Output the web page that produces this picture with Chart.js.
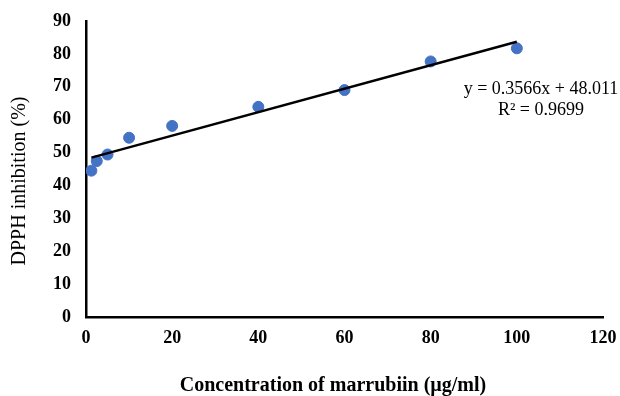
<!DOCTYPE html>
<html>
<head>
<meta charset="utf-8">
<script src="https://cdn.jsdelivr.net/npm/chart.js@4/dist/chart.umd.min.js"></script>
<style>
  html, body { margin: 0; padding: 0; background: #fff; }
  #wrap { width: 620px; height: 396px; position: relative; }
</style>
</head>
<body>
<div id="wrap"><canvas id="dpphChart"></canvas></div>
<script>
// data
const concentrations = [1.25, 2.5, 5, 10, 20, 40, 60, 80, 100];
const inhibition     = [44.5, 47.4, 49.4, 54.5, 58.1, 63.9, 69.0, 77.7, 81.7];
const trendX = [1.25, 100];
const trendY = [48.46, 83.67];
const equationLines = ['y = 0.3566x + 48.011', 'R\u00b2 = 0.9699'];
const xTitle = 'Concentration of marrubiin (\u00b5g/ml)';
const yTitle = 'DPPH inhibition (%)';

const serif = "'Liberation Serif', 'Times New Roman', serif";

// equation label + axis titles, placed like the Excel original
const labelsPlugin = {
    id: 'extraLabels',
    afterDatasetsDraw(chart) {
        const { ctx, scales: { x, y } } = chart;
        const cx = x.getPixelForValue(105.6);
        const cy = y.getPixelForValue(69.3);
        ctx.save();
        ctx.font = '18px ' + serif;
        ctx.fillStyle = '#000';
        ctx.textAlign = 'center';
        ctx.textBaseline = 'middle';
        equationLines.forEach((t, i) => ctx.fillText(t, cx, cy + i * 21));

        ctx.font = 'bold 20px ' + serif;
        ctx.fillText(xTitle, 333, 386);

        ctx.font = '20px ' + serif;
        ctx.translate(20, 181);
        ctx.rotate(-Math.PI / 2);
        ctx.fillText(yTitle, 0, 0);
        ctx.restore();
    }
};

new Chart(document.getElementById('dpphChart'), {
    type: 'scatter',
    data: {
        datasets: [
            {
                type: 'line',
                label: 'Trend',
                data: trendX.map((v, i) => ({ x: v, y: trendY[i] })),
                borderColor: '#000', borderWidth: 2.5,
                pointRadius: 0, fill: false, order: 0
            },
            {
                label: 'Inhibition',
                data: concentrations.map((v, i) => ({ x: v, y: inhibition[i] })),
                backgroundColor: '#4472C4', borderColor: '#4472C4',
                pointRadius: 5.5, pointHoverRadius: 5.5, order: 1
            }
        ]
    },
    options: {
        responsive: true,
        maintainAspectRatio: false,
        animation: false,
        layout: { padding: { top: 21, right: 17, left: 0, bottom: 0 } },
        plugins: { legend: { display: false }, tooltip: { enabled: false } },
        scales: {
            x: {
                type: 'linear', min: 0, max: 120,
                ticks: { stepSize: 20, color: '#000', padding: 11, font: { family: serif, size: 18, weight: 'bold' } },
                grid: { drawOnChartArea: false, drawTicks: false },
                border: { color: '#000', width: 2.5 },
                afterFit: s => { s.height = 79; s.paddingLeft = 0; s.paddingRight = 0; }
            },
            y: {
                min: 0, max: 90,
                ticks: { stepSize: 10, color: '#000', padding: 15, font: { family: serif, size: 18, weight: 'bold' } },
                grid: { drawOnChartArea: false, drawTicks: false },
                border: { color: '#000', width: 2.5 },
                afterFit: s => { s.width = 86; s.paddingTop = 0; s.paddingBottom = 0; }
            }
        }
    },
    plugins: [labelsPlugin]
});
</script>
</body>
</html>
